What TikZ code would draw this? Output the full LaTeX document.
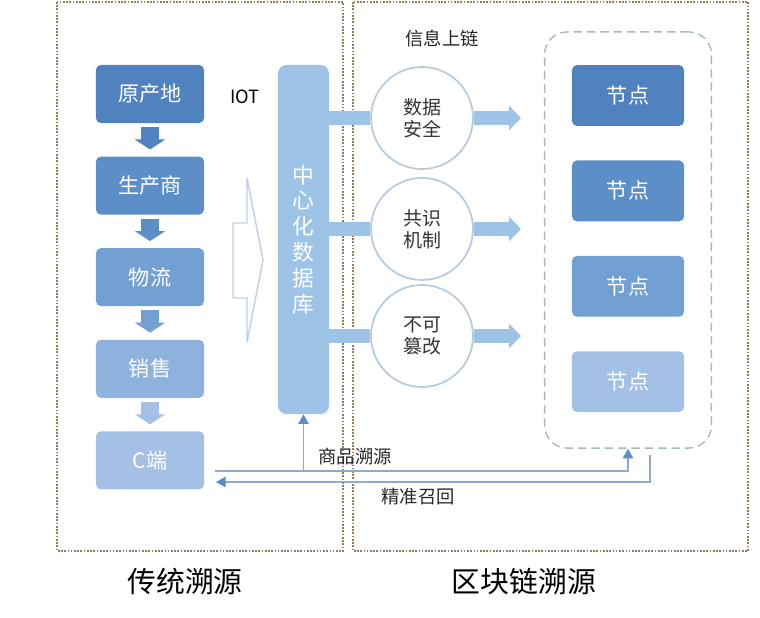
\documentclass[tikz,border=0pt]{standalone}
\usepackage{fontspec}
\setmainfont{Noto Sans CJK SC}
\usetikzlibrary{positioning,arrows.meta,shapes.geometric}

\definecolor{frameline}{HTML}{9B7B55}
\definecolor{tone1}{HTML}{4F82BE}
\definecolor{tone2}{HTML}{5C8FC8}
\definecolor{tone3}{HTML}{72A0D2}
\definecolor{tone4}{HTML}{8DB2DD}
\definecolor{tone5}{HTML}{A4C0E4}
\definecolor{dbblue}{HTML}{9DC3E6}
\definecolor{ringline}{HTML}{B7C9DC}
\definecolor{flowline}{HTML}{8EAACB}
\definecolor{flowtip}{HTML}{5B8FC7}
\definecolor{dashgray}{HTML}{A9B6C5}
\definecolor{hollow}{HTML}{BDD0E4}

\begin{document}
\begin{tikzpicture}[x=0.025cm,y=-0.025cm,
	framebox/.style={draw=frameline, line width=1.4pt, dash pattern=on 1.2pt off 1.1pt},
	stagebox/.style={rounded corners=3.5pt, minimum width=2.7cm, minimum height=1.45cm, text=white, font=\fontsize{15}{18}\selectfont},
	chainbox/.style={rounded corners=3.5pt, minimum width=2.8cm, minimum height=1.52cm, text=white, font=\fontsize{15}{18}\selectfont},
	ring/.style={circle, draw=ringline, line width=1.2pt, fill=white, minimum size=2.55cm, align=center, text=black!80, font=\fontsize{13.5}{15.5}\selectfont},
	downarrow/.style={line width=0.45cm, -{Triangle[width=0.75cm,length=0.25cm]}, shorten <=0.1cm, shorten >=0.17cm},
	bar/.style={dbblue, line width=0.33cm},
	bararrow/.style={dbblue, line width=0.33cm, -{Triangle[width=0.6cm,length=0.3cm]}},
	flow/.style={draw=flowline, line width=0.8pt, -{Triangle[width=0.26cm,length=0.24cm,color=flowtip]}},
	label/.style={text=black!85, font=\fontsize{13}{15}\selectfont}]

	\useasboundingbox (0,0) rectangle (760,617);

	% frames and titles
	\draw[framebox] (57,2) rectangle (343,551);
	\draw[framebox] (353,2) rectangle (748,551);
	\node[font=\fontsize{20.5}{24}\selectfont] (oldtitle) at (185,582) {传统溯源};
	\node[font=\fontsize{20.5}{24}\selectfont] (newtitle) at (524,582) {区块链溯源};

	% traditional chain
	\node[stagebox, fill=tone1] (origin) at (150,94) {原产地};
	\node[stagebox, fill=tone2] (maker) [below=0.825cm of origin] {生产商};
	\node[stagebox, fill=tone3] (logistics) [below=0.825cm of maker] {物流};
	\node[stagebox, fill=tone4] (sales) [below=0.825cm of logistics] {销售};
	\node[stagebox, fill=tone5] (cend) [below=0.825cm of sales] {C端};
	\draw[downarrow, tone1] (origin) -- (maker);
	\draw[downarrow, tone2] (maker) -- (logistics);
	\draw[downarrow, tone3] (logistics) -- (sales);
	\draw[downarrow, tone5] (sales) -- (cend);

	\node[font=\fontsize{13}{15}\selectfont] (iot) at (245,97) {IOT};
	\draw[hollow, line width=1pt, fill=white] (233,223) -- (247,223) -- (247,178) -- (263,260)
		-- (247,342) -- (247,298) -- (233,298) -- cycle;

	% central database
	\node[rounded corners=6pt, fill=dbblue, minimum width=1.275cm, minimum height=8.725cm,
		align=center, text=white, font=\fontsize{15.5}{18.4}\selectfont] (db) at (303.5,239.5)
		{中\\心\\化\\数\\据\\库};

	% blockchain side
	\node[label] (upchain) at (442,38) {信息上链};
	\node[ring] (safe) at (422,118) {数据\\安全};
	\node[ring] (consensus) at (422,229) {共识\\机制};
	\node[ring] (tamper) at (422,336) {不可\\篡改};
	\coordinate (t1) at (521,118);
	\coordinate (t2) at (521,229);
	\coordinate (t3) at (521,336);
	\draw[bar] (db.east |- safe) -- (safe.west);
	\draw[bar] (db.east |- consensus) -- (consensus.west);
	\draw[bar] (db.east |- tamper) -- (tamper.west);
	\draw[bararrow] (safe.east) -- (t1);
	\draw[bararrow] (consensus.east) -- (t2);
	\draw[bararrow] (tamper.east) -- (t3);

	\node[draw=dashgray, line width=1pt, dash pattern=on 6pt off 3.5pt, rounded corners=16pt,
		minimum width=4.17cm, minimum height=10.4cm] (chain) at (628,240) {};
	\node[chainbox, fill=tone1] (node1) at (628,95.5) {节点};
	\node[chainbox, fill=tone2] (node2) [below=0.85cm of node1] {节点};
	\node[chainbox, fill=tone3] (node3) [below=0.85cm of node2] {节点};
	\node[chainbox, fill=tone5] (node4) [below=0.85cm of node3] {节点};

	% trace and recall
	\coordinate (s1) at (215,471);
	\coordinate (s2) at (628,471);
	\coordinate (r0) at (650,455);
	\coordinate (r1) at (650,482);
	\coordinate (r2) at (216,482);
	\draw[flow] (s1) -- (s2) -- (chain.south);
	\draw[flow] (db.south |- s1) -- (db.south);
	\draw[flow] (r0) -- (r1) -- (r2);
	\node[label] (trace) at (355,457) {商品溯源};
	\node[label] (recall) at (418,497) {精准召回};
\end{tikzpicture}
\end{document}
